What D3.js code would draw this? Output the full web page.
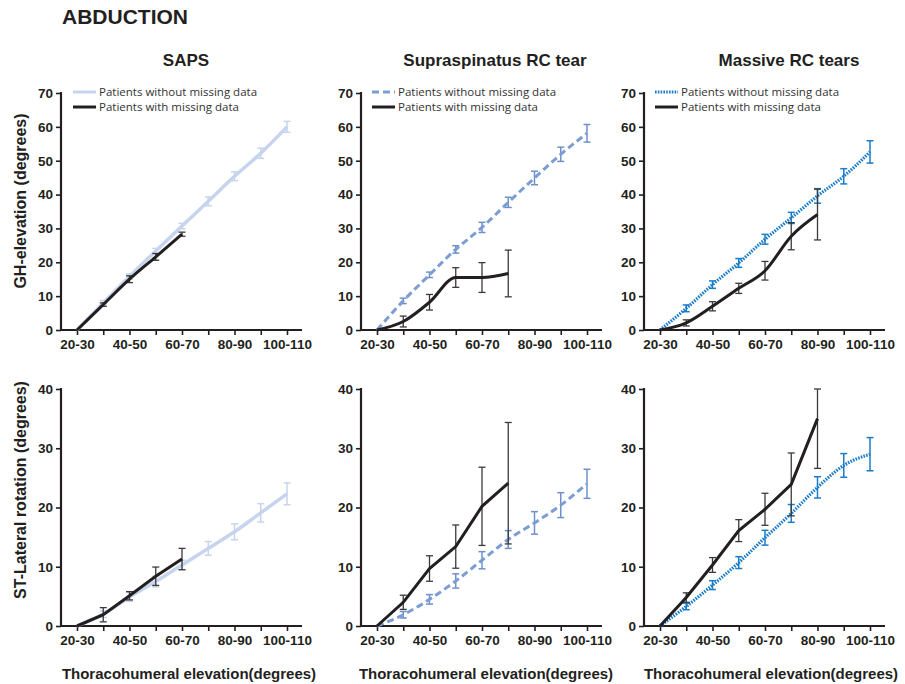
<!DOCTYPE html>
<html>
<head>
<meta charset="utf-8">
<script src="https://cdn.jsdelivr.net/npm/d3@7"></script>
<style>
  body { margin: 0; background: #fff; }
  svg { display: block; font-family: "Liberation Sans", Arial, sans-serif; }
</style>
</head>
<body>
<svg id="chart" width="905" height="684"></svg>
<script>
// ---------- DATA ----------
const categories = ["20-30","30-40","40-50","50-60","60-70","70-80","80-90","90-100","100-110"];
const tickLabels = ["20-30","40-50","60-70","80-90","100-110"];
const groups = ["SAPS", "Supraspinatus RC tear", "Massive RC tears"];
const legendLabels = ["Patients without missing data", "Patients with missing data"];
const ghTicks = [0,10,20,30,40,50,60,70];
const stTicks = [0,10,20,30,40];

// GH-elevation
const ghSapsWithout    = [0, 8.0, 15.8, 23.3, 30.7, 38.0, 45.4, 52.2, 60.0];
const ghSapsWithoutErr = [0, 0.7, 0.8, 0.8, 0.8, 1.3, 1.3, 1.5, 1.6];
const ghSapsWith       = [0, 7.5, 15.0, 21.6, 28.3];
const ghSapsWithErr    = [0, 0.5, 1.0, 1.0, 0.6];

const ghSupWithout     = [0, 8.6, 16.3, 23.8, 30.3, 37.7, 44.9, 51.9, 58.1];
const ghSupWithoutErr  = [0, 0.8, 0.8, 1.1, 1.5, 1.5, 2.0, 2.1, 2.6];
const ghSupWith        = [0, 2.5, 8.2, 15.5, 15.5, 16.7];
const ghSupWithErr     = [0, 1.6, 2.3, 2.9, 4.4, 6.9];

const ghMasWithout     = [0, 6.4, 13.4, 19.8, 26.8, 33.1, 39.6, 45.4, 52.6];
const ghMasWithoutErr  = [0, 1.0, 1.1, 1.3, 1.45, 1.65, 2.15, 2.25, 3.3];
const ghMasWith        = [0, 2.1, 7.0, 12.3, 17.5, 27.7, 34.1];
const ghMasWithErr     = [0, 0.9, 1.35, 1.5, 2.75, 4.0, 7.5];

// ST-lateral rotation
const stSapsWithout    = [0, 2.0, 4.9, 7.5, 10.3, 13.1, 15.9, 19.1, 22.3];
const stSapsWithoutErr = [0, 0.55, 0.75, 0.9, 0.8, 1.15, 1.35, 1.55, 1.85];
const stSapsWith       = [0, 1.9, 5.1, 8.4, 11.3];
const stSapsWithErr    = [0, 1.2, 0.7, 1.55, 1.8];

const stSupWithout     = [0, 1.9, 4.5, 7.6, 11.1, 14.6, 17.4, 20.4, 24.0];
const stSupWithoutErr  = [0, 0.55, 0.8, 1.2, 1.45, 1.5, 1.9, 2.1, 2.45];
const stSupWith        = [0, 4.0, 9.7, 13.4, 20.2, 24.1];
const stSupWithErr     = [0, 1.2, 2.15, 3.65, 6.6, 10.25];

const stMasWithout     = [0, 3.3, 6.9, 10.7, 14.9, 19.0, 23.4, 27.1, 29.0];
const stMasWithoutErr  = [0, 0.55, 0.75, 1.0, 1.25, 1.5, 1.8, 2.0, 2.8];
const stMasWith        = [0, 4.8, 10.3, 16.1, 19.7, 23.9, 35.0];
const stMasWithErr     = [0, 0.8, 1.25, 1.85, 2.7, 5.3, 8.4];

// ---------- LAYOUT / STYLE ----------
const svg = d3.select("#chart");
const black = "#231f20";
const styles = [
  { color: "#c6d4ed", dash: null,  width: 3.5, errColor: "#c6d4ed" },
  { color: "#7b9dd4", dash: "7,4", width: 3,   errColor: "#6f91cb" },
  { color: "#1b7cc8", dash: "1.6,1.2", width: 3.2, errColor: "#1b7cc8" }
];
const colX = [61, 361, 644];
const rows = [
  { top: 93, bottom: 330, max: 70, ticks: ghTicks, curve: d3.curveMonotoneX,
    data: [[ghSapsWithout, ghSapsWithoutErr, ghSapsWith, ghSapsWithErr],
           [ghSupWithout, ghSupWithoutErr, ghSupWith, ghSupWithErr],
           [ghMasWithout, ghMasWithoutErr, ghMasWith, ghMasWithErr]],
    label: "GH-elevation (degrees)", labelY: 201 },
  { top: 389, bottom: 626, max: 40, ticks: stTicks, curve: d3.curveLinear,
    data: [[stSapsWithout, stSapsWithoutErr, stSapsWith, stSapsWithErr],
           [stSupWithout, stSupWithoutErr, stSupWith, stSupWithErr],
           [stMasWithout, stMasWithoutErr, stMasWith, stMasWithErr]],
    label: "ST-Lateral rotation (degrees)", labelY: 490 }
];

// Title
svg.append("text").attr("x", 62).attr("y", 24)
  .attr("font-size", 21).attr("font-weight", "bold").attr("fill", black)
  .text("ABDUCTION");

groups.forEach((g, i) => {
  const cx = [186, 495, 789][i];
  svg.append("text").attr("x", cx).attr("y", 66).attr("text-anchor", "middle")
    .attr("font-size", 17).attr("font-weight", "bold").attr("fill", black).text(g);
  svg.append("text").attr("x", [189, 486, 771][i]).attr("y", 679).attr("text-anchor", "middle")
    .attr("font-size", 15).attr("font-weight", "bold").attr("fill", black)
    .text("Thoracohumeral elevation(degrees)");
});

rows.forEach((row, r) => {
  svg.append("text")
    .attr("transform", `translate(26,${row.labelY}) rotate(-90)`)
    .attr("text-anchor", "middle").attr("font-size", 16).attr("font-weight", "bold")
    .attr("fill", black).text(row.label);

  row.data.forEach((set, c) => {
    const x0 = colX[c];
    const x = d3.scalePoint().domain(categories).range([x0 + 16, x0 + 226]);
    const y = d3.scaleLinear().domain([0, row.max]).range([row.bottom, row.top]);
    const g = svg.append("g");
    const st = styles[c];
    const [wo, woErr, wi, wiErr] = set;

    // axes
    const yAxis = d3.axisLeft(y).tickValues(row.ticks).tickSize(5).tickPadding(3).tickSizeOuter(0);
    const ya = g.append("g").attr("transform", `translate(${x0},0)`).call(yAxis);
    const xAxis = d3.axisBottom(x).tickSize(5).tickPadding(4).tickSizeOuter(0)
      .tickFormat(d => tickLabels.includes(d) ? d : "");
    const xa = g.append("g").attr("transform", `translate(0,${row.bottom})`).call(xAxis);
    [ya, xa].forEach(a => {
      a.selectAll("path.domain").remove();
      a.selectAll("line").attr("stroke", black).attr("stroke-width", 1.6);
      a.selectAll("text").attr("font-size", 13.5).attr("font-weight", "bold")
        .attr("fill", black).attr("font-family", "'Liberation Sans', Arial, sans-serif");
    });
    g.append("line").attr("x1", x0).attr("x2", x0).attr("y1", row.top - 1).attr("y2", row.bottom)
      .attr("stroke", black).attr("stroke-width", 2.2);
    g.append("line").attr("x1", x0).attr("x2", x0 + 241).attr("y1", row.bottom).attr("y2", row.bottom)
      .attr("stroke", black).attr("stroke-width", 2.2);

    const line = d3.line().x((d, i) => x(categories[i])).y(d => y(d)).curve(row.curve);
    const lineSmooth = d3.line().x((d, i) => x(categories[i])).y(d => y(d)).curve(d3.curveMonotoneX);

    const drawErr = (vals, errs, color, w) => {
      vals.forEach((v, i) => {
        if (!errs[i]) return;
        const xx = x(categories[i]);
        const y1 = y(Math.min(row.max, v + errs[i])), y2 = y(Math.max(0, v - errs[i]));
        g.append("line").attr("x1", xx).attr("x2", xx).attr("y1", y1).attr("y2", y2)
          .attr("stroke", color).attr("stroke-width", w);
        [y1, y2].forEach(yy => g.append("line").attr("x1", xx - 3.5).attr("x2", xx + 3.5)
          .attr("y1", yy).attr("y2", yy).attr("stroke", color).attr("stroke-width", w));
      });
    };

    // without missing data
    drawErr(wo, woErr, st.errColor, 1.5);
    g.append("path").datum(wo).attr("d", lineSmooth).attr("fill", "none")
      .attr("stroke", st.color).attr("stroke-width", st.width)
      .attr("stroke-dasharray", st.dash);

    // with missing data
    drawErr(wi, wiErr, "#3a3a3a", 1.3);
    g.append("path").datum(wi).attr("d", line).attr("fill", "none")
      .attr("stroke", black).attr("stroke-width", 3);

    // legend (top row only)
    if (r === 0) {
      const lx = [73, 372, 655][c];
      legendLabels.forEach((lab, k) => {
        const ly = 92 + k * 15;
        g.append("line").attr("x1", lx).attr("x2", lx + 23).attr("y1", ly).attr("y2", ly)
          .attr("stroke", k === 0 ? st.color : black).attr("stroke-width", 3)
          .attr("stroke-dasharray", k === 0 ? st.dash : null);
        g.append("text").attr("x", lx + 26).attr("y", ly + 4).attr("font-size", 11.5)
          .attr("font-family", "'Open Sans', sans-serif")
          .attr("fill", "#333").text(lab);
      });
    }
  });
});
</script>
</body>
</html>
